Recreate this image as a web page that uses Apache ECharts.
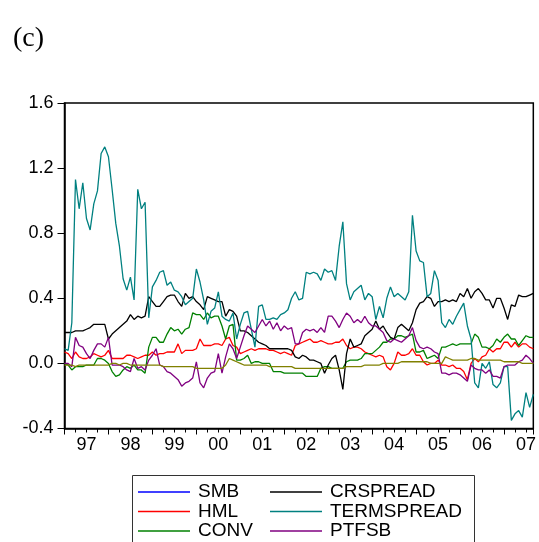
<!DOCTYPE html>
<html>
<head>
<meta charset="utf-8">
<script src="https://cdn.jsdelivr.net/npm/echarts@6/dist/echarts.min.js"></script>
<style>html,body{margin:0;padding:0;background:#fff;}#chart{width:539px;height:542px;}</style>
</head>
<body>
<div id="chart"></div>
<script>
// Monthly observations 1997-01 .. 2007-09
var startYear = 1997, nMonths = 129;
var months = [];
for (var i = 0; i < nMonths; i++) {
  var y = startYear + Math.floor(i / 12), m = (i % 12) + 1;
  months.push(y + '-' + (m < 10 ? '0' + m : m));
}
var yTicks = [-0.4, 0.0, 0.4, 0.8, 1.2, 1.6];
var yearLabels = ['97','98','99','00','01','02','03','04','05','06','07'];
var legendCol1 = ['SMB', 'HML', 'CONV'];
var legendCol2 = ['CRSPREAD', 'TERMSPREAD', 'PTFSB'];

var smb = [];
var hml = [
 0.07,0.06,0.03,0.07,0.04,0.03,0.03,0.04,0.06,0.05,0.04,0.05,
 0.08,0.03,0.03,0.03,0.03,0.05,0.05,0.04,0.03,0.04,0.05,0.05,
 0.07,0.05,0.06,0.06,0.07,0.07,0.07,0.12,0.06,0.08,0.08,0.08,
 0.09,0.15,0.11,0.11,0.11,0.12,0.12,0.11,0.15,0.16,0.11,0.10,
 0.06,0.07,0.08,0.09,0.08,0.09,0.09,0.09,0.08,0.08,0.07,0.06,
 0.07,0.06,0.05,0.11,0.12,0.13,0.14,0.15,0.13,0.13,0.14,0.13,
 0.12,0.12,0.13,0.13,0.15,0.11,0.09,0.10,0.10,0.09,0.07,0.06,
 0.05,0.04,0.05,0.04,-0.02,-0.04,0.00,0.07,0.05,0.05,0.06,0.09,
 0.05,0.05,0.01,-0.01,0.00,0.00,0.02,-0.01,-0.01,-0.02,-0.01,-0.03,
 -0.03,-0.05,-0.10,0.00,0.03,0.01,0.04,0.05,0.09,0.07,0.09,0.09,
 0.13,0.13,0.10,0.13,0.10,0.12,0.12,0.10,0.09];
var conv = [
 0.00,-0.01,-0.04,-0.02,-0.02,-0.02,-0.01,-0.01,-0.01,0.03,0.03,0.02,
 0.00,-0.05,-0.08,-0.07,-0.04,-0.02,-0.03,-0.01,-0.04,-0.04,-0.06,0.10,
 0.16,0.16,0.13,0.13,0.18,0.22,0.20,0.21,0.18,0.21,0.22,0.31,
 0.30,0.30,0.27,0.31,0.28,0.29,0.29,0.23,0.15,0.23,0.24,0.02,
 0.02,0.03,0.05,0.00,0.01,0.01,0.00,0.00,0.00,-0.05,-0.05,-0.05,
 -0.06,-0.06,-0.06,-0.06,-0.06,-0.06,-0.08,-0.08,-0.08,-0.08,-0.03,-0.02,
 -0.02,-0.03,-0.03,-0.03,-0.03,0.01,0.02,0.02,0.02,0.03,0.06,0.06,
 0.06,0.08,0.10,0.13,0.13,0.15,0.15,0.17,0.17,0.16,0.17,0.18,
 0.07,0.07,0.08,0.03,0.04,0.05,0.03,0.10,0.10,0.11,0.12,0.11,
 0.12,0.12,0.12,0.12,0.18,0.16,0.10,0.10,0.09,0.11,0.15,0.13,
 0.16,0.18,0.15,0.15,0.11,0.14,0.17,0.16,0.16];
var crspread = [
 0.19,0.19,0.19,0.20,0.20,0.20,0.21,0.22,0.24,0.24,0.24,0.24,
 0.15,0.18,0.20,0.22,0.24,0.26,0.30,0.27,0.29,0.28,0.29,0.41,
 0.38,0.35,0.35,0.38,0.41,0.42,0.42,0.38,0.35,0.43,0.40,0.41,
 0.38,0.36,0.33,0.41,0.40,0.39,0.38,0.38,0.29,0.33,0.32,0.29,
 0.20,0.20,0.19,0.17,0.15,0.13,0.12,0.11,0.09,0.09,0.09,0.09,
 0.09,0.09,0.08,0.04,0.03,0.05,0.04,0.02,0.02,0.01,0.00,-0.06,
 -0.01,0.03,0.05,-0.04,-0.16,0.06,0.15,0.10,0.11,0.12,0.17,0.19,
 0.21,0.26,0.21,0.23,0.19,0.16,0.15,0.22,0.24,0.22,0.20,0.25,
 0.33,0.37,0.38,0.41,0.40,0.35,0.38,0.38,0.39,0.38,0.39,0.38,
 0.43,0.41,0.46,0.40,0.44,0.46,0.43,0.39,0.39,0.34,0.40,0.40,
 0.34,0.27,0.36,0.35,0.42,0.41,0.41,0.42,0.43];
var termspread = [
 0.09,0.08,0.25,1.13,0.95,1.11,0.89,0.82,0.98,1.06,1.29,1.33,
 1.27,1.07,0.86,0.72,0.52,0.45,0.53,0.39,1.07,0.95,0.99,0.28,
 0.47,0.51,0.56,0.57,0.48,0.50,0.45,0.44,0.41,0.36,0.38,0.40,
 0.58,0.50,0.39,0.24,0.32,0.34,0.44,0.29,0.27,0.26,0.31,0.15,
 0.24,0.31,0.32,0.21,0.10,0.35,0.36,0.27,0.27,0.28,0.27,0.30,
 0.31,0.33,0.40,0.44,0.39,0.40,0.56,0.55,0.56,0.55,0.51,0.58,
 0.56,0.57,0.51,0.72,0.87,0.49,0.39,0.44,0.46,0.48,0.39,0.43,
 0.41,0.27,0.35,0.28,0.40,0.47,0.41,0.43,0.41,0.39,0.44,0.91,
 0.69,0.63,0.62,0.41,0.43,0.57,0.51,0.25,0.22,0.27,0.24,0.29,
 0.33,0.37,0.23,0.15,-0.12,-0.15,0.00,-0.03,0.01,-0.13,-0.15,-0.12,
 -0.02,-0.02,-0.35,-0.31,-0.29,-0.33,-0.18,-0.27,-0.19];
var ptfsb = [
 0.00,0.00,-0.02,0.16,0.11,0.10,0.06,0.03,0.08,0.12,0.12,0.10,
 0.16,-0.01,-0.01,-0.01,-0.02,-0.04,-0.05,0.03,-0.03,-0.02,-0.04,0.02,
 0.05,0.09,-0.01,-0.02,-0.05,-0.06,-0.08,-0.10,-0.14,-0.12,-0.11,-0.09,
 0.01,-0.12,-0.15,-0.09,-0.06,-0.05,0.06,-0.06,0.04,0.12,0.09,0.03,
 0.10,0.17,0.23,0.21,0.19,0.23,0.27,0.23,0.26,0.21,0.25,0.20,
 0.23,0.21,0.22,0.12,0.12,0.19,0.21,0.20,0.21,0.19,0.22,0.19,
 0.29,0.29,0.26,0.22,0.27,0.31,0.29,0.25,0.27,0.25,0.29,0.25,
 0.23,0.23,0.21,0.19,0.14,0.13,0.15,0.14,0.13,0.15,0.17,0.22,
 0.14,0.10,0.09,0.10,0.09,0.07,0.06,-0.06,-0.06,-0.07,-0.06,-0.06,
 -0.07,-0.09,-0.11,-0.01,-0.03,-0.04,-0.04,-0.06,-0.04,-0.08,-0.08,-0.09,
 -0.02,-0.01,-0.01,-0.01,0.01,0.02,0.05,0.03,0.00];
var other = [
 -0.01,-0.01,-0.01,-0.02,-0.01,-0.01,-0.01,-0.01,-0.01,-0.01,-0.01,-0.01,
 -0.01,0.00,0.00,-0.01,0.00,0.00,-0.01,-0.01,-0.01,-0.01,-0.01,-0.01,
 -0.01,-0.01,-0.01,-0.02,-0.02,-0.02,-0.02,-0.02,-0.02,-0.02,-0.02,-0.02,
 -0.03,-0.03,-0.03,-0.03,-0.03,-0.03,-0.03,-0.03,-0.01,0.03,0.02,0.01,
 0.00,-0.01,-0.01,-0.01,-0.01,-0.01,-0.01,-0.01,-0.02,-0.02,-0.02,-0.02,
 -0.02,-0.02,-0.02,-0.03,-0.03,-0.03,-0.03,-0.03,-0.03,-0.03,-0.03,-0.03,
 -0.03,-0.03,-0.03,-0.03,-0.03,-0.02,-0.02,-0.02,-0.02,-0.02,-0.01,-0.01,
 -0.01,-0.01,-0.01,0.00,0.00,0.00,0.00,0.00,0.01,0.01,0.01,0.01,
 0.01,0.01,0.01,0.01,0.00,0.00,0.00,0.00,0.04,0.03,0.02,0.02,
 0.02,0.02,0.02,0.03,0.03,0.02,0.02,0.02,0.02,0.02,0.02,0.02,
 0.01,0.01,0.01,0.01,0.01,0.00,0.00,0.00,0.00];

function toPairs(arr) {
  return arr.map(function (v, i) {
    var p = months[i].split('-');
    return [Number(p[0]) + (Number(p[1]) - 1) / 12, v];
  });
}
var xMin = startYear;
var xMax = startYear + (nMonths - 1) / 12;

function lineSeries(name, data, color) {
  return {
    name: name, type: 'line', data: toPairs(data), symbol: 'none',
    lineStyle: { width: 1.3, color: color }, itemStyle: { color: color },
    animation: false
  };
}

var font = 'Liberation Sans, Arial, sans-serif';
function legendItem(name, left, top) {
  return {
    data: [name], left: left, top: top, padding: 0,
    icon: 'rect', itemWidth: 52, itemHeight: 1.5,
    textStyle: { fontFamily: font, fontSize: 19, color: '#000', padding: [0, 0, 0, 3] },
    selectedMode: false
  };
}
var rowTops = [482.5, 502, 521.5];
var legends = [];
legendCol1.forEach(function (n, k) { legends.push(legendItem(n, 138, rowTops[k])); });
legendCol2.forEach(function (n, k) { legends.push(legendItem(n, 270, rowTops[k])); });

var chart = echarts.init(document.getElementById('chart'), null, { renderer: 'canvas' });
chart.setOption({
  backgroundColor: '#ffffff',
  animation: false,
  title: {
    text: '(c)', left: 8, top: 20,
    textStyle: { fontFamily: 'Liberation Serif, Times New Roman, serif', fontSize: 28, fontWeight: 'normal', color: '#000' }
  },
  grid: { left: 64.5, right: 2, top: 103, bottom: 113.5, show: true, borderColor: '#000', borderWidth: 1.5, backgroundColor: 'transparent' },
  xAxis: [{
    type: 'value', min: xMin, max: xMax, interval: 1, position: 'bottom',
    axisLine: { show: true, onZero: false, lineStyle: { color: '#000', width: 1.5 } },
    axisTick: { show: true, length: 6, lineStyle: { color: '#000', width: 1 } },
    minorTick: { show: true, splitNumber: 4, length: 4, lineStyle: { color: '#000', width: 1 } },
    axisLabel: { show: false }, splitLine: { show: false }
  }, {
    type: 'value', min: xMin, max: xMax, interval: 0.5, position: 'bottom',
    axisLine: { show: false }, axisTick: { show: false }, splitLine: { show: false },
    axisLabel: {
      show: true, margin: 8, color: '#000', fontFamily: font, fontSize: 18,
      formatter: function (v) {
        var f = v - Math.floor(v);
        if (Math.abs(f - 0.5) < 1e-6) {
          var idx = Math.floor(v) - startYear;
          return yearLabels[idx] || '';
        }
        return '';
      }
    }
  }],
  yAxis: {
    type: 'value', min: yTicks[0], max: yTicks[yTicks.length - 1], interval: 0.4,
    axisLine: { show: true, onZero: false, lineStyle: { color: '#000', width: 1.5 } },
    axisTick: { show: true, length: 7, lineStyle: { color: '#000', width: 1 } },
    splitLine: { show: false },
    axisLabel: {
      margin: 11, color: '#000', fontFamily: font, fontSize: 18,
      formatter: function (v) { return (Math.abs(v) < 1e-9 ? 0 : v).toFixed(1); }
    }
  },
  legend: legends,
  graphic: [{
    type: 'rect', left: 130, top: 473, silent: true,
    shape: { width: 342, height: 80 },
    style: { fill: 'none', stroke: '#333', lineWidth: 1 }
  }],
  series: [
    lineSeries('SMB', smb, '#0000ff'),
    lineSeries('HML', hml, '#ff0000'),
    lineSeries('CONV', conv, '#008000'),
    lineSeries('CRSPREAD', crspread, '#000000'),
    lineSeries('TERMSPREAD', termspread, '#008080'),
    lineSeries('PTFSB', ptfsb, '#800080'),
    lineSeries('OTHER', other, '#808000')
  ]
});
</script>
</body>
</html>
